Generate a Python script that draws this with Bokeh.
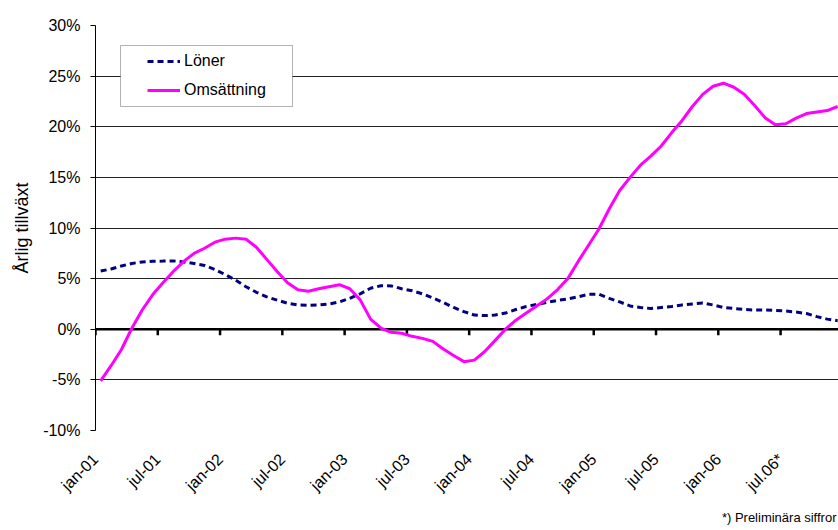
import math
from bokeh.plotting import figure
from bokeh.models import (Range1d, FixedTicker, PrintfTickFormatter, Span, BoxAnnotation,
                          Legend, LegendItem, Title)
from bokeh.embed import file_html
from bokeh.resources import INLINE

# Monthly values, jan-01 .. dec-06 (annual growth, %)
loner = [5.75, 5.95, 6.25, 6.5, 6.65, 6.72, 6.73, 6.75, 6.65, 6.5, 6.3, 5.9,
         5.4, 4.85, 4.2, 3.65, 3.2, 2.87, 2.57, 2.4, 2.37, 2.4, 2.5, 2.7,
         3.05, 3.5, 4.05, 4.3, 4.28, 4.0, 3.8, 3.5, 3.1, 2.65, 2.15, 1.74,
         1.4, 1.35, 1.4, 1.6, 1.95, 2.25, 2.45, 2.65, 2.85, 3.0, 3.2, 3.45,
         3.45, 3.05, 2.7, 2.3, 2.15, 2.05, 2.15, 2.25, 2.4, 2.5, 2.6, 2.4,
         2.15, 2.05, 1.95, 1.9, 1.9, 1.85, 1.8, 1.7, 1.55, 1.25, 1.0, 0.85]

omsattning = [-5.1, -3.6, -2.0, 0.1, 1.9, 3.4, 4.6, 5.7, 6.7, 7.5, 8.0, 8.6,
              8.9, 9.0, 8.9, 8.1, 6.9, 5.7, 4.6, 3.9, 3.75, 4.0, 4.2, 4.4,
              4.0, 2.9, 1.0, 0.1, -0.3, -0.4, -0.7, -0.9, -1.2, -1.95, -2.6, -3.2,
              -3.05, -2.2, -1.1, 0.0, 0.9, 1.6, 2.3, 3.0, 3.9, 5.0, 6.7, 8.3,
              9.9, 11.9, 13.7, 15.0, 16.2, 17.1, 18.1, 19.4, 20.6, 22.0, 23.2, 24.0,
              24.3, 23.9, 23.2, 22.1, 20.9, 20.2, 20.3, 20.85, 21.3, 21.45, 21.6, 22.0]

tick_labels = ["jan-01", "jul-01", "jan-02", "jul-02", "jan-03", "jul-03",
               "jan-04", "jul-04", "jan-05", "jul-05", "jan-06", "jul.06*"]
y_ticks = [-10, -5, 0, 5, 10, 15, 20, 25, 30]

x = list(range(len(loner)))
xt = [-0.5 + 6 * k for k in range(len(tick_labels) + 1)]

FONT = "Liberation Sans"

p = figure(width=838, height=530, output_backend="svg", toolbar_location=None,
           x_range=Range1d(-0.5, 71.08), y_range=Range1d(-10, 30),
           min_border_left=95, min_border_right=0, min_border_top=25, min_border_bottom=100)
p.outline_line_color = None
p.background_fill_color = "white"
p.border_fill_color = "white"

p.xgrid.visible = False
p.ygrid.ticker = FixedTicker(ticks=y_ticks)
p.ygrid.grid_line_color = "#222222"
p.ygrid.grid_line_width = 1

yax = p.yaxis[0]
yax.ticker = FixedTicker(ticks=y_ticks)
yax.formatter = PrintfTickFormatter(format="%d%%")
yax.major_tick_out = 5
yax.major_tick_in = 0
yax.minor_tick_out = 0
yax.minor_tick_in = 0
yax.axis_line_color = "black"
yax.major_tick_line_color = "black"
yax.major_label_text_font = FONT
yax.major_label_text_font_size = "16px"
yax.major_label_text_color = "black"
yax.major_label_standoff = 10
yax.axis_label = "Årlig tillväxt"
yax.axis_label_text_font = FONT
yax.axis_label_text_font_size = "18px"
yax.axis_label_text_font_style = "normal"
yax.axis_label_text_color = "black"
yax.axis_label_standoff = 8

xax = p.xaxis[0]
xax.ticker = FixedTicker(ticks=xt[:-1])
xax.major_label_overrides = {t: lab for t, lab in zip(xt, tick_labels)}
xax.major_label_orientation = math.pi / 4
xax.axis_line_color = None
xax.major_tick_line_color = None
xax.minor_tick_line_color = None
xax.major_label_text_font = FONT
xax.major_label_text_font_size = "16px"
xax.major_label_text_color = "black"
xax.major_label_standoff = 20

zero = Span(location=0, dimension="width", line_color="black", line_width=2.5, level="underlay")
p.add_layout(zero)

# tick marks on the zero line
p.segment(x0=xt, y0=[0] * len(xt), x1=xt, y1=[-0.6] * len(xt), line_color="black", line_width=2.5)

r1 = p.line(x, loner, line_color="#000080", line_width=3, line_dash="6 4")
r2 = p.line(x, omsattning, line_color="#FF00FF", line_width=3)

box = BoxAnnotation(left=25, right=197, top=385, bottom=324,
                    left_units="screen", right_units="screen", top_units="screen", bottom_units="screen",
                    fill_color="white", fill_alpha=1.0, line_color="black", line_width=1)
p.add_layout(box)

legend = Legend(items=[LegendItem(label="Löner", renderers=[r1]),
                       LegendItem(label="Omsättning", renderers=[r2])],
                location=(52, 330), padding=0, margin=0, border_line_color=None,
                background_fill_alpha=0, glyph_width=33, glyph_height=20, label_height=20,
                spacing=9, label_standoff=4, label_text_font=FONT, label_text_font_size="16px",
                label_text_color="black")
p.add_layout(legend)

note = Title(text="*) Preliminära siffror", align="right", text_font=FONT,
             text_font_size="13px", text_font_style="normal", text_color="black",
             offset=2, standoff=11)
p.add_layout(note, "below")

open("out.html", "w", encoding="utf-8").write(file_html(p, INLINE))
